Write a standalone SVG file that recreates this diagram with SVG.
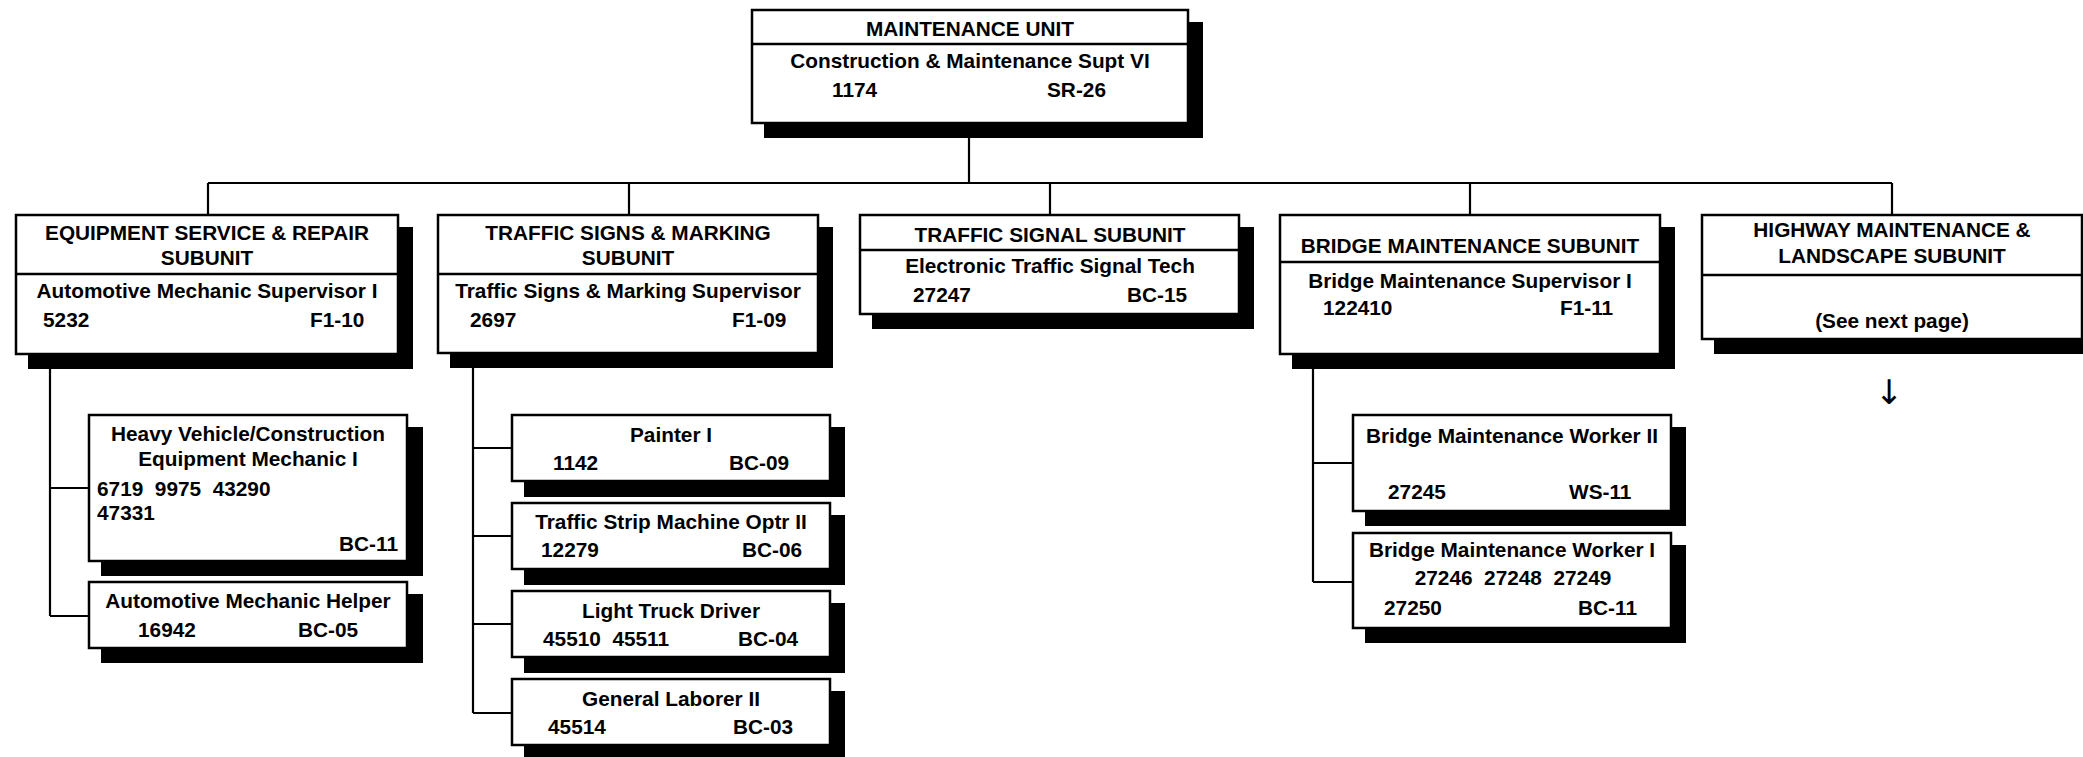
<svg xmlns="http://www.w3.org/2000/svg" width="2083" height="757" viewBox="0 0 2083 757">
<style>
.bx{fill:#fff;stroke:#000;stroke-width:2.5}
.sh{fill:#000}
.dv{stroke:#000;stroke-width:2.5}
.cn{stroke:#000;stroke-width:2.2;fill:none}
text{font-family:"Liberation Sans",Arial,sans-serif;font-weight:bold;font-size:20.8px;fill:#000;white-space:pre}
.c{text-anchor:middle}
.arr{font-family:"DejaVu Sans",sans-serif;font-weight:normal;font-size:34px;fill:#000}
</style>
<rect width="2083" height="757" fill="#fff"/>
<g id="connectors">
<path class="cn" d="M969,123V183M208,183H1892M208,183V215M629,183V215M1050,183V215M1470,183V215M1892,183V215"/>
<path class="cn" d="M50,354V616M50,488H89M50,616H89"/>
<path class="cn" d="M473,353V713M473,448H512M473,536H512M473,624H512M473,713H512"/>
<path class="cn" d="M1313,354V582M1313,463H1353M1313,582H1353"/>
</g>
<g id="maintenance-unit">
<rect class="sh" x="764" y="22" width="439" height="116"/>
<rect class="bx" x="752" y="10" width="436" height="113"/>
<line class="dv" x1="752" y1="44" x2="1188" y2="44"/>
<text class="c" x="970" y="36">MAINTENANCE UNIT</text>
<text class="c" x="970" y="68">Construction &amp; Maintenance Supt VI</text>
<text x="832" y="97">1174</text>
<text x="1047" y="97">SR-26</text>
</g>
<g id="equipment-subunit">
<rect class="sh" x="28" y="227" width="385" height="142"/>
<rect class="bx" x="16" y="215" width="382" height="139"/>
<line class="dv" x1="16" y1="274" x2="398" y2="274"/>
<text class="c" x="207" y="240">EQUIPMENT SERVICE &amp; REPAIR</text>
<text class="c" x="207" y="265">SUBUNIT</text>
<text class="c" x="207" y="298">Automotive Mechanic Supervisor I</text>
<text x="43" y="327">5232</text>
<text x="310" y="327">F1-10</text>
</g>
<g id="traffic-signs-subunit">
<rect class="sh" x="450" y="227" width="383" height="141"/>
<rect class="bx" x="438" y="215" width="380" height="138"/>
<line class="dv" x1="438" y1="274" x2="818" y2="274"/>
<text class="c" x="628" y="240">TRAFFIC SIGNS &amp; MARKING</text>
<text class="c" x="628" y="265">SUBUNIT</text>
<text class="c" x="628" y="298">Traffic Signs &amp; Marking Supervisor</text>
<text x="470" y="327">2697</text>
<text x="732" y="327">F1-09</text>
</g>
<g id="traffic-signal-subunit">
<rect class="sh" x="872" y="227" width="382" height="102"/>
<rect class="bx" x="860" y="215" width="379" height="99"/>
<line class="dv" x1="860" y1="250" x2="1239" y2="250"/>
<text class="c" x="1050" y="242">TRAFFIC SIGNAL SUBUNIT</text>
<text class="c" x="1050" y="273">Electronic Traffic Signal Tech</text>
<text x="913" y="302">27247</text>
<text x="1127" y="302">BC-15</text>
</g>
<g id="bridge-subunit">
<rect class="sh" x="1292" y="227" width="383" height="142"/>
<rect class="bx" x="1280" y="215" width="380" height="139"/>
<line class="dv" x1="1280" y1="262" x2="1660" y2="262"/>
<text class="c" x="1470" y="253">BRIDGE MAINTENANCE SUBUNIT</text>
<text class="c" x="1470" y="288">Bridge Maintenance Supervisor I</text>
<text x="1323" y="315">122410</text>
<text x="1560" y="315">F1-11</text>
</g>
<g id="highway-subunit">
<rect class="sh" x="1714" y="227" width="383" height="127"/>
<rect class="bx" x="1702" y="215" width="380" height="124"/>
<line class="dv" x1="1702" y1="275" x2="2082" y2="275"/>
<text class="c" x="1892" y="237">HIGHWAY MAINTENANCE &amp;</text>
<text class="c" x="1892" y="263">LANDSCAPE SUBUNIT</text>
<text class="c" x="1892" y="328">(See next page)</text>
<text class="c arr" x="1889" y="404">↓</text>
</g>
<g id="heavy-vehicle-mechanic">
<rect class="sh" x="101" y="427" width="322" height="149"/>
<rect class="bx" x="89" y="415" width="318" height="146"/>
<text class="c" x="248" y="441">Heavy Vehicle/Construction</text>
<text class="c" x="248" y="466">Equipment Mechanic I</text>
<text x="97" y="496" xml:space="preserve">6719  9975  43290</text>
<text x="97" y="520">47331</text>
<text x="398" y="551" text-anchor="end">BC-11</text>
</g>
<g id="auto-mechanic-helper">
<rect class="sh" x="101" y="594" width="322" height="69"/>
<rect class="bx" x="89" y="582" width="318" height="66"/>
<text class="c" x="248" y="608">Automotive Mechanic Helper</text>
<text x="138" y="637">16942</text>
<text x="298" y="637">BC-05</text>
</g>
<g id="painter-i">
<rect class="sh" x="524" y="427" width="321" height="70"/>
<rect class="bx" x="512" y="415" width="318" height="66"/>
<text class="c" x="671" y="442">Painter I</text>
<text x="553" y="470">1142</text>
<text x="729" y="470">BC-09</text>
</g>
<g id="traffic-strip-operator">
<rect class="sh" x="524" y="515" width="321" height="70"/>
<rect class="bx" x="512" y="503" width="318" height="66"/>
<text class="c" x="671" y="529">Traffic Strip Machine Optr II</text>
<text x="541" y="557">12279</text>
<text x="742" y="557">BC-06</text>
</g>
<g id="light-truck-driver">
<rect class="sh" x="524" y="603" width="321" height="70"/>
<rect class="bx" x="512" y="591" width="318" height="66"/>
<text class="c" x="671" y="618">Light Truck Driver</text>
<text x="543" y="646" xml:space="preserve">45510  45511</text>
<text x="738" y="646">BC-04</text>
</g>
<g id="general-laborer">
<rect class="sh" x="524" y="691" width="321" height="70"/>
<rect class="bx" x="512" y="679" width="318" height="66"/>
<text class="c" x="671" y="706">General Laborer II</text>
<text x="548" y="734">45514</text>
<text x="733" y="734">BC-03</text>
</g>
<g id="bridge-worker-ii">
<rect class="sh" x="1365" y="427" width="321" height="99"/>
<rect class="bx" x="1353" y="415" width="318" height="96"/>
<text class="c" x="1512" y="443">Bridge Maintenance Worker II</text>
<text x="1388" y="499">27245</text>
<text x="1569" y="499">WS-11</text>
</g>
<g id="bridge-worker-i">
<rect class="sh" x="1365" y="545" width="321" height="98"/>
<rect class="bx" x="1353" y="533" width="318" height="95"/>
<text class="c" x="1512" y="557">Bridge Maintenance Worker I</text>
<text class="c" x="1513" y="585" xml:space="preserve">27246  27248  27249</text>
<text x="1384" y="615">27250</text>
<text x="1578" y="615">BC-11</text>
</g>
</svg>
